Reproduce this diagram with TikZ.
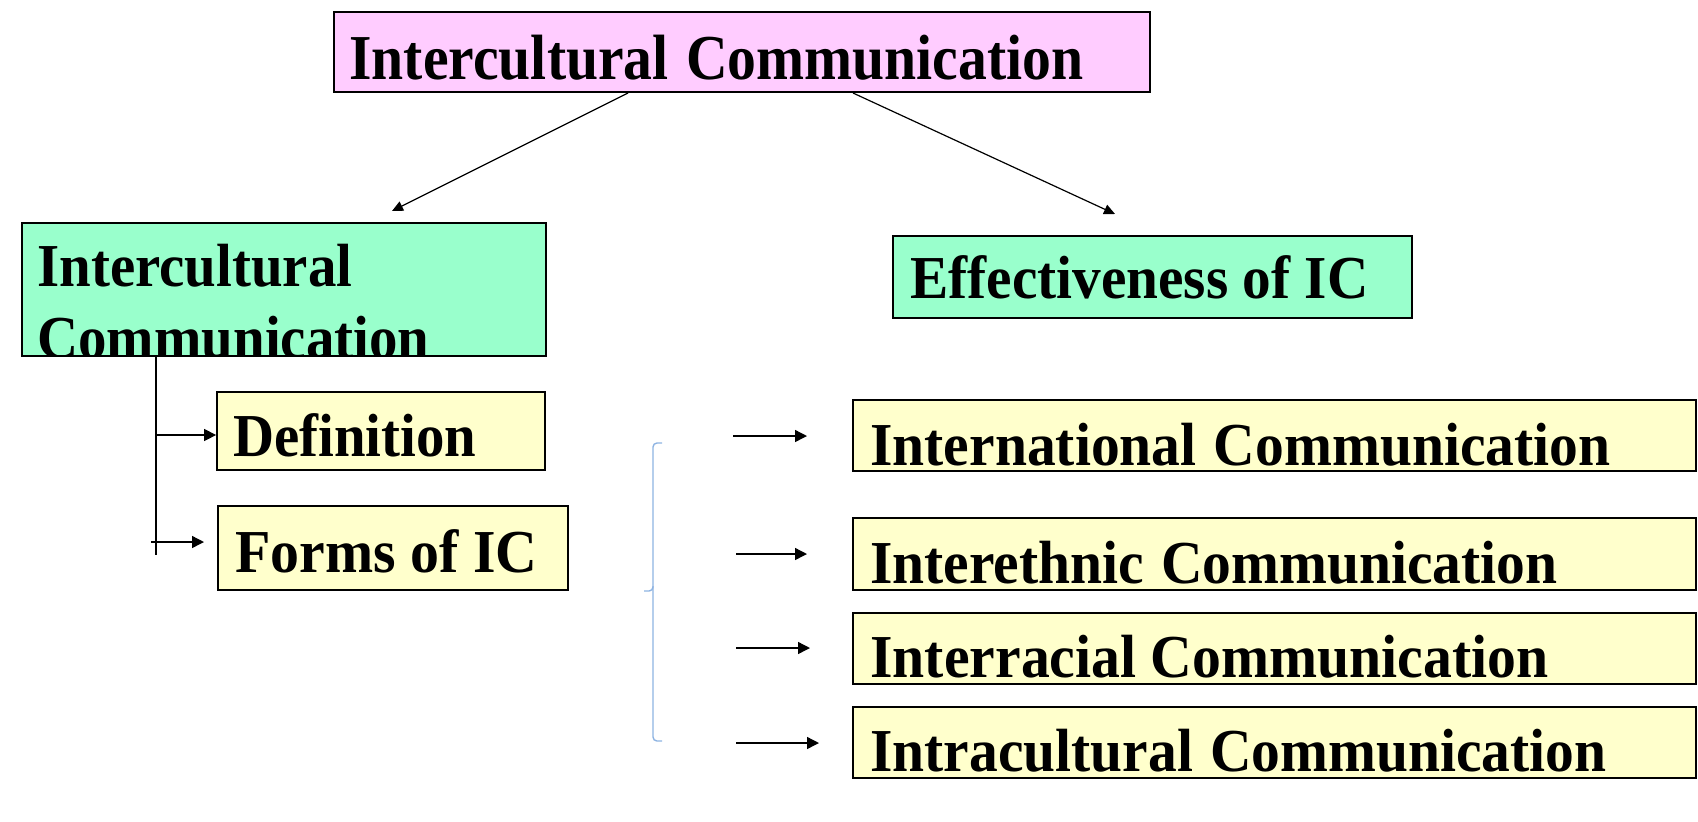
\documentclass[tikz,border=0pt]{standalone}
\usepackage{fontspec}
\setmainfont{Liberation Serif}
\usetikzlibrary{fit,arrows.meta}
\newdimen\ux \ux=0.5pt
\newcommand{\wtext}[2]{\resizebox{#1\ux}{\height}{#2}}
\newcommand{\wsp}{\hspace{0.3em}}
\definecolor{pinkc}{HTML}{FFCCFF}
\definecolor{greenc}{HTML}{99FFCC}
\definecolor{yellowc}{HTML}{FFFFCC}
\definecolor{bracec}{HTML}{8DB3E2}
\begin{document}
\begin{tikzpicture}[x=0.5pt,y=-0.5pt,
  boxline/.style={draw=black, line width=0.9pt, inner sep=0pt},
  pinkbox/.style={boxline, fill=pinkc},
  greenbox/.style={boxline, fill=greenc},
  yellowbox/.style={boxline, fill=yellowc},
  lbl/.style={anchor=base west, inner sep=0pt, font=\fontsize{30.5}{36}\selectfont\bfseries},
  biglbl/.style={lbl, font=\fontsize{32}{38}\selectfont\bfseries},
  arr/.style={-{Triangle[length=6pt,width=6pt]}, line width=0.7pt},
  thinarr/.style={-{Triangle[length=5.5pt,width=5pt]}, line width=0.6pt},
  plain/.style={line width=0.7pt},
  bracket/.style={draw=bracec, line width=0.7pt, rounded corners=2pt}]
\useasboundingbox (0,0) rectangle (1698,821);

% top box
\node[pinkbox, fit={(334,12)(1150,92)}] (top) {};
\node[biglbl] (toptext) at (349,79) {\wtext{734}{Intercultural\wsp Communication}};

% left green box
\node[greenbox, fit={(22,223)(546,356)}] (icbox) {};
\begin{scope}
  \clip (23,224) rectangle (545,355);
  \node[lbl] (ictexta) at (37,286) {\wtext{315}{Intercultural}};
  \node[lbl] (ictextb) at (37,358) {\wtext{392}{Communication}};
\end{scope}

% right green box
\node[greenbox, fit={(893,236)(1412,318)}] (eff) {};
\node[lbl] (efftext) at (910,298) {\wtext{458}{Effectiveness of IC}};

% definition / forms
\node[yellowbox, fit={(217,392)(545,470)}] (def) {};
\node[lbl] (deftext) at (233,456) {\wtext{243}{Definition}};
\node[yellowbox, fit={(218,506)(568,590)}] (forms) {};
\node[lbl] (formstext) at (235,572) {\wtext{302}{Forms of IC}};

% forms of IC
\node[yellowbox, fit={(853,400)(1696,471)}] (intl) {};
\node[lbl] (intltext) at (870,465) {\wtext{740}{International\wsp Communication}};
\node[yellowbox, fit={(853,518)(1696,590)}] (ieth) {};
\node[lbl] (iethtext) at (870,583) {\wtext{687}{Interethnic\wsp Communication}};
\node[yellowbox, fit={(853,613)(1696,684)}] (irac) {};
\node[lbl] (iractext) at (870,677) {\wtext{678}{Interracial Communication}};
\node[yellowbox, fit={(853,707)(1696,778)}] (intra) {};
\node[lbl] (intratext) at (870,771) {\wtext{736}{Intracultural\wsp Communication}};

% connectors from top
\coordinate (tls) at (628,93);
\coordinate (tle) at (392,211);
\coordinate (trs) at (853,93);
\coordinate (tre) at (1115,214);
\draw[thinarr] (tls) -- (tle);
\draw[thinarr] (trs) -- (tre);

% tree under left box
\coordinate (vb) at (156,555);
\draw[plain] (vb |- icbox.south) -- (vb);
\coordinate (dstart) at (156,435);
\draw[arr] (dstart) -- (dstart -| def.west);
\coordinate (fstart) at (151,542);
\coordinate (fend) at (204,542);
\draw[arr] (fstart) -- (fend);

% bracket
\draw[bracket] (662,443) -- (653,443) -- (653,741) -- (662,741);
\draw[bracket] (653,586) -- (653,591) -- (644,591);

% arrows to forms
\coordinate (a1s) at (733,436); \coordinate (a1e) at (807,436);
\coordinate (a2s) at (736,554); \coordinate (a2e) at (807,554);
\coordinate (a3s) at (736,648); \coordinate (a3e) at (810,648);
\coordinate (a4s) at (736,743); \coordinate (a4e) at (819,743);
\draw[arr] (a1s) -- (a1e);
\draw[arr] (a2s) -- (a2e);
\draw[arr] (a3s) -- (a3e);
\draw[arr] (a4s) -- (a4e);
\end{tikzpicture}
\end{document}
